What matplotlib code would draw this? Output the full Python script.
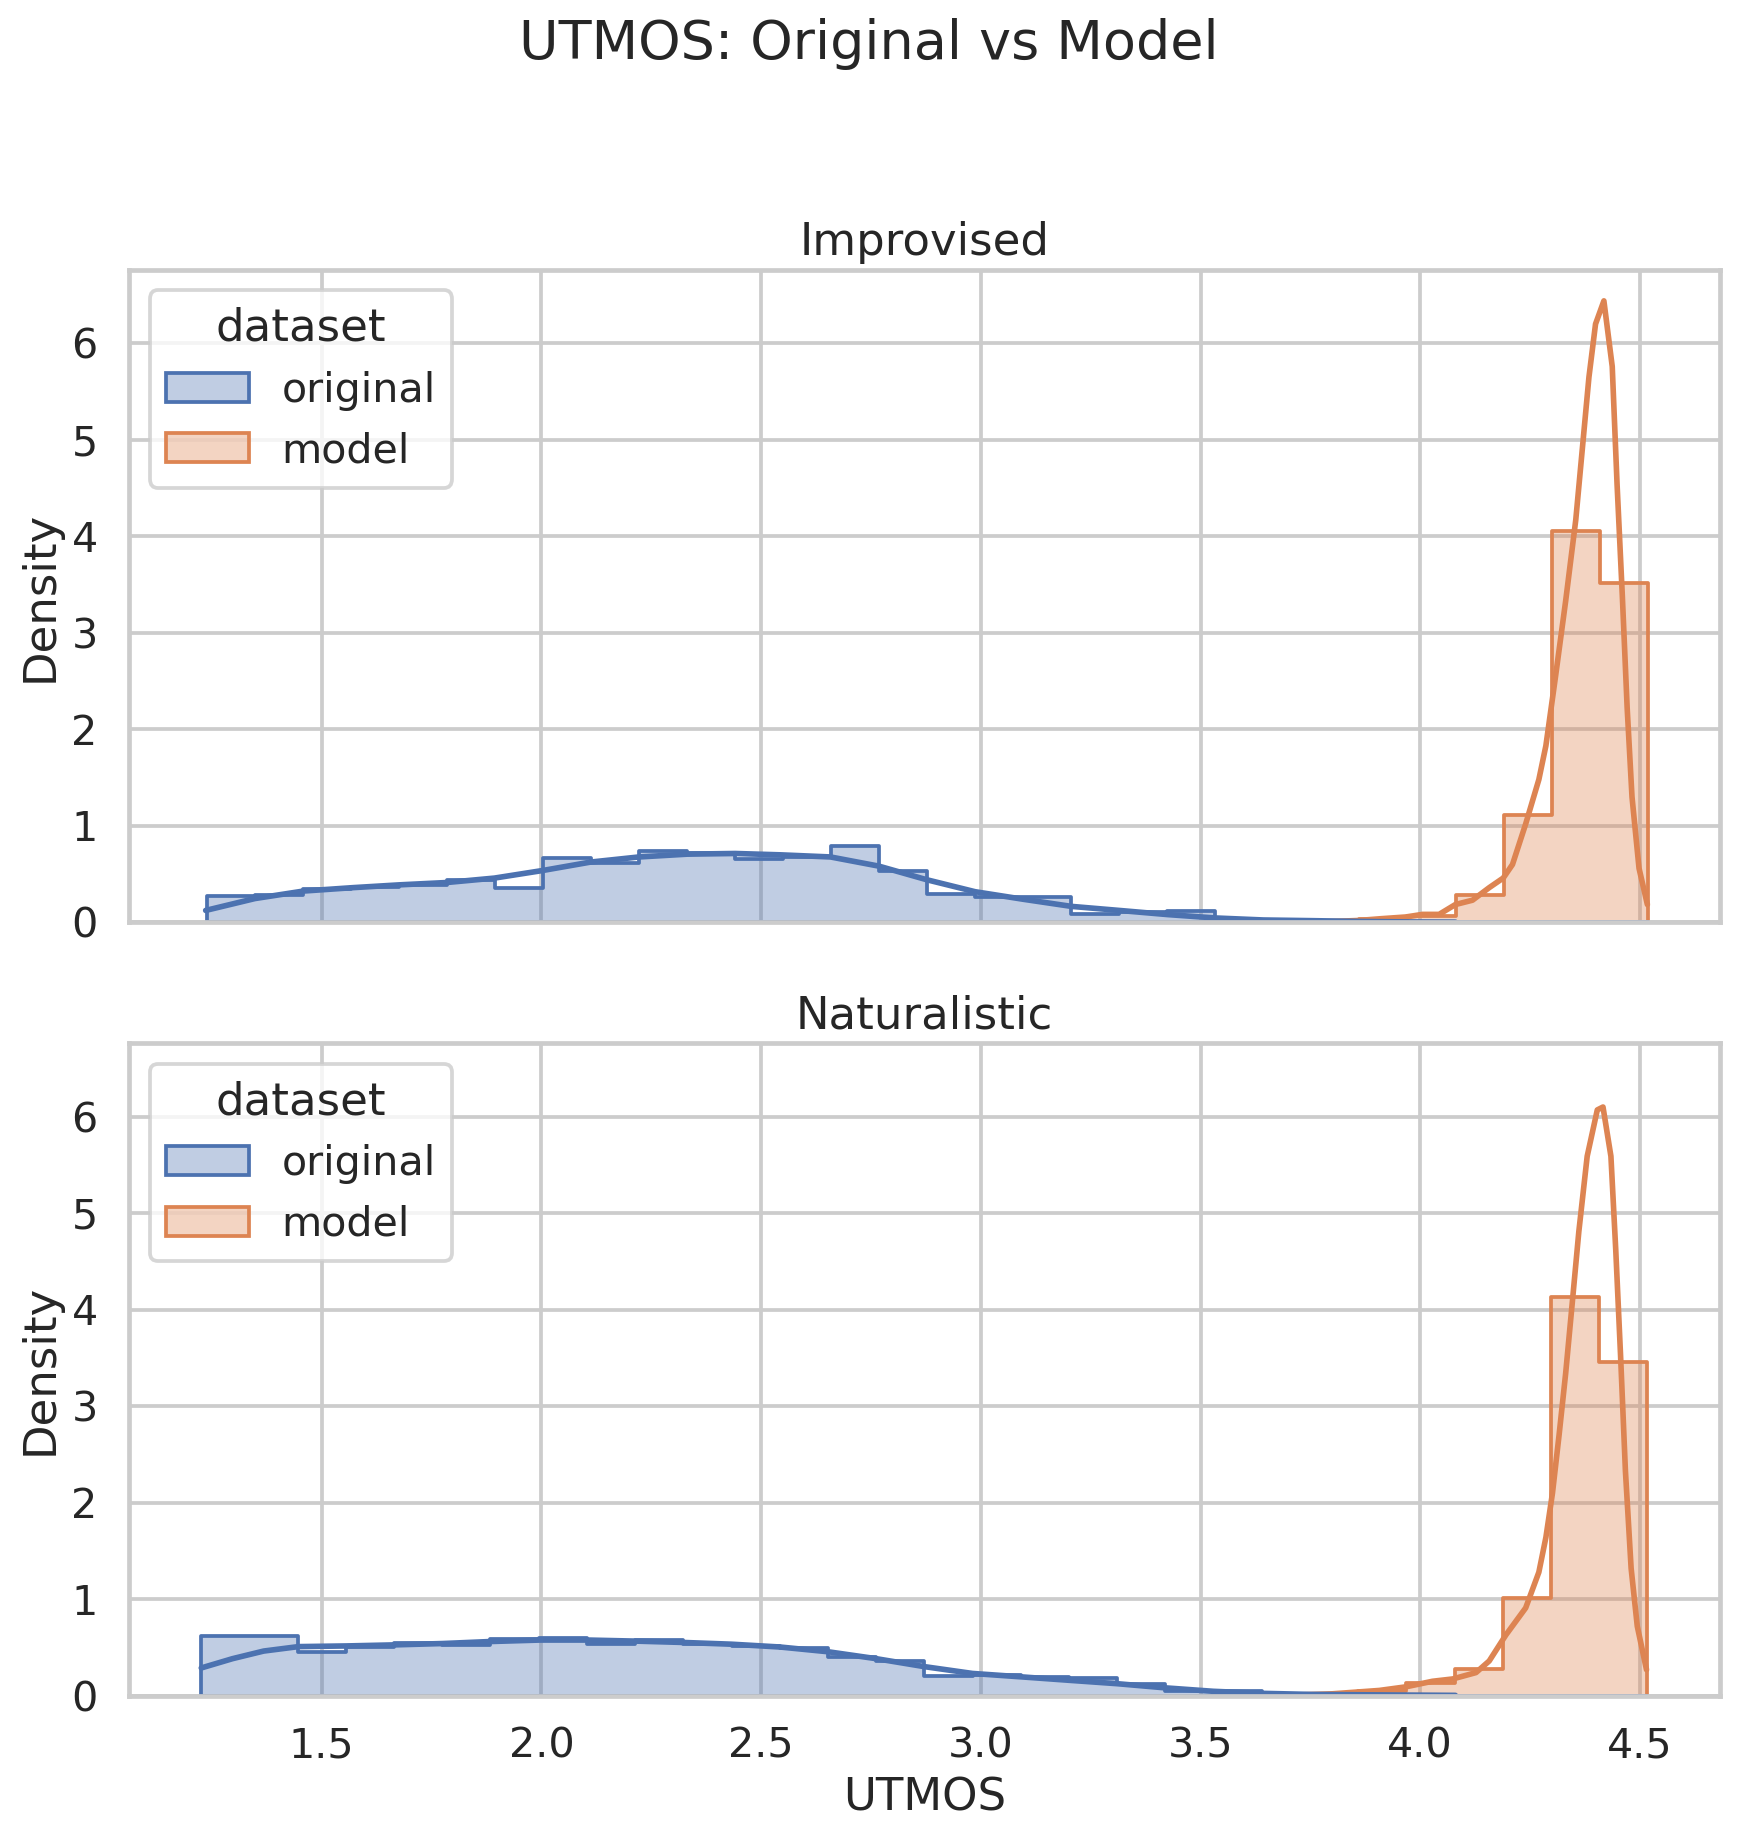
import matplotlib
matplotlib.use("Agg")
import matplotlib.pyplot as plt
import numpy as np
import seaborn as sns

sns.set_theme(style="whitegrid", context="talk")

BLUE = "#4C72B0"
ORANGE = "#DD8452"

# bin ranges (30 bins each panel)
impro_range = (1.2386, 4.5175)
natur_range = (1.226, 4.517)
n_bins = 30

# Improvised: histogram densities per bin
impro_original = [0.272, 0.285, 0.346, 0.367, 0.389, 0.44, 0.353, 0.664, 0.615, 0.74,
                  0.724, 0.654, 0.678, 0.795, 0.53, 0.293, 0.265, 0.258, 0.09, 0.11,
                  0.12, 0.018, 0.01, 0.005, 0.0, 0.003, 0.0, 0.0, 0.0, 0.0]
impro_model = [0.0] * 23 + [0.005, 0.03, 0.065, 0.287, 1.11, 4.06, 3.52]

# Naturalistic: histogram densities per bin
natur_original = [0.616, 0.616, 0.455, 0.51, 0.545, 0.523, 0.587, 0.60, 0.534, 0.573,
                  0.54, 0.52, 0.498, 0.402, 0.356, 0.2, 0.217, 0.196, 0.18, 0.117,
                  0.053, 0.053, 0.005, 0.0, 0.0, 0.0, 0.0, 0.0, 0.0, 0.0]
natur_model = [0.0] * 23 + [0.005, 0.05, 0.128, 0.275, 1.01, 4.13, 3.46]

# KDE curves
impro_orig_kde_x = [1.236, 1.348, 1.459, 1.571, 1.677, 1.784, 1.893, 2.002, 2.112, 2.222,
                    2.332, 2.441, 2.544, 2.658, 2.768, 2.877, 2.987, 3.096, 3.206, 3.315,
                    3.425, 3.533, 3.643, 3.753, 3.862, 3.97, 4.08]
impro_orig_kde_y = [0.124, 0.247, 0.325, 0.36, 0.389, 0.413, 0.459, 0.537, 0.625, 0.678,
                    0.707, 0.714, 0.70, 0.678, 0.583, 0.442, 0.318, 0.24, 0.166, 0.124,
                    0.081, 0.046, 0.025, 0.018, 0.01, 0.005, 0.003]
impro_model_kde_x = [3.76, 3.86, 3.907, 3.967, 4.005, 4.043, 4.080, 4.119, 4.157, 4.189,
                     4.210, 4.240, 4.27, 4.286, 4.308, 4.331, 4.354, 4.369, 4.384, 4.399,
                     4.418, 4.437, 4.448, 4.460, 4.471, 4.482, 4.498, 4.517]
impro_model_kde_y = [0.003, 0.02, 0.037, 0.056, 0.083, 0.083, 0.185, 0.23, 0.36, 0.46,
                     0.60, 1.02, 1.48, 1.83, 2.55, 3.33, 4.17, 4.91, 5.65, 6.20,
                     6.44, 5.76, 4.54, 3.38, 2.22, 1.30, 0.56, 0.185]

natur_orig_kde_x = [1.226, 1.297, 1.368, 1.447, 1.556, 1.665, 1.776, 1.885, 1.997, 2.106,
                    2.215, 2.324, 2.433, 2.543, 2.652, 2.762, 2.871, 2.981, 3.091, 3.201,
                    3.310, 3.419, 3.529, 3.638, 3.75, 3.862, 3.97, 4.08]
natur_orig_kde_y = [0.288, 0.384, 0.463, 0.509, 0.516, 0.527, 0.541, 0.562, 0.577, 0.577,
                    0.566, 0.552, 0.534, 0.505, 0.456, 0.384, 0.302, 0.231, 0.196, 0.16,
                    0.125, 0.082, 0.046, 0.025, 0.014, 0.01, 0.007, 0.004]
natur_model_kde_x = [3.68, 3.80, 3.907, 3.967, 4.028, 4.074, 4.127, 4.157, 4.195, 4.240,
                     4.270, 4.286, 4.301, 4.316, 4.331, 4.346, 4.361, 4.380, 4.403, 4.416,
                     4.434, 4.445, 4.456, 4.467, 4.480, 4.494, 4.515]
natur_model_kde_y = [0.002, 0.02, 0.055, 0.092, 0.15, 0.174, 0.24, 0.36, 0.63, 0.91,
                     1.28, 1.64, 2.10, 2.70, 3.34, 4.07, 4.81, 5.59, 6.07, 6.10,
                     5.59, 4.62, 3.52, 2.33, 1.32, 0.72, 0.27]

panels = [
    ("Improvised", impro_range, impro_original, impro_model,
     (impro_orig_kde_x, impro_orig_kde_y), (impro_model_kde_x, impro_model_kde_y)),
    ("Naturalistic", natur_range, natur_original, natur_model,
     (natur_orig_kde_x, natur_orig_kde_y), (natur_model_kde_x, natur_model_kde_y)),
]


def step_hist(ax, edges, heights, color, label):
    y = np.append(heights, heights[-1])
    ax.fill_between(edges, y, step="post", facecolor=(color, 0.35),
                    edgecolor=color, linewidth=1.5, label=label)


fig, axes = plt.subplots(2, 1, figsize=(1738 / 180, 1839 / 180), dpi=180,
                         sharex=True, sharey=True)
fig.subplots_adjust(left=0.0742, right=0.9896, top=0.8533, bottom=0.0779, hspace=0.185)

for ax, (title, rng, orig, model, kde_o, kde_m) in zip(axes, panels):
    edges = np.linspace(rng[0], rng[1], n_bins + 1)
    step_hist(ax, edges, model, ORANGE, "model")
    step_hist(ax, edges, orig, BLUE, "original")
    ax.plot(kde_m[0], kde_m[1], color=ORANGE)
    ax.plot(kde_o[0], kde_o[1], color=BLUE)
    ax.set_title(title)
    ax.set_ylabel("Density")
    handles, labels = ax.get_legend_handles_labels()
    ax.legend(handles[::-1], labels[::-1], title="dataset", loc="upper left")

axes[1].set_xlabel("UTMOS")
axes[1].set_yticks([0, 1, 2, 3, 4, 5, 6])
axes[0].set_ylim(bottom=0)
fig.suptitle("UTMOS: Original vs Model", y=0.99, va="top")

fig.savefig("out.png", dpi=180)
